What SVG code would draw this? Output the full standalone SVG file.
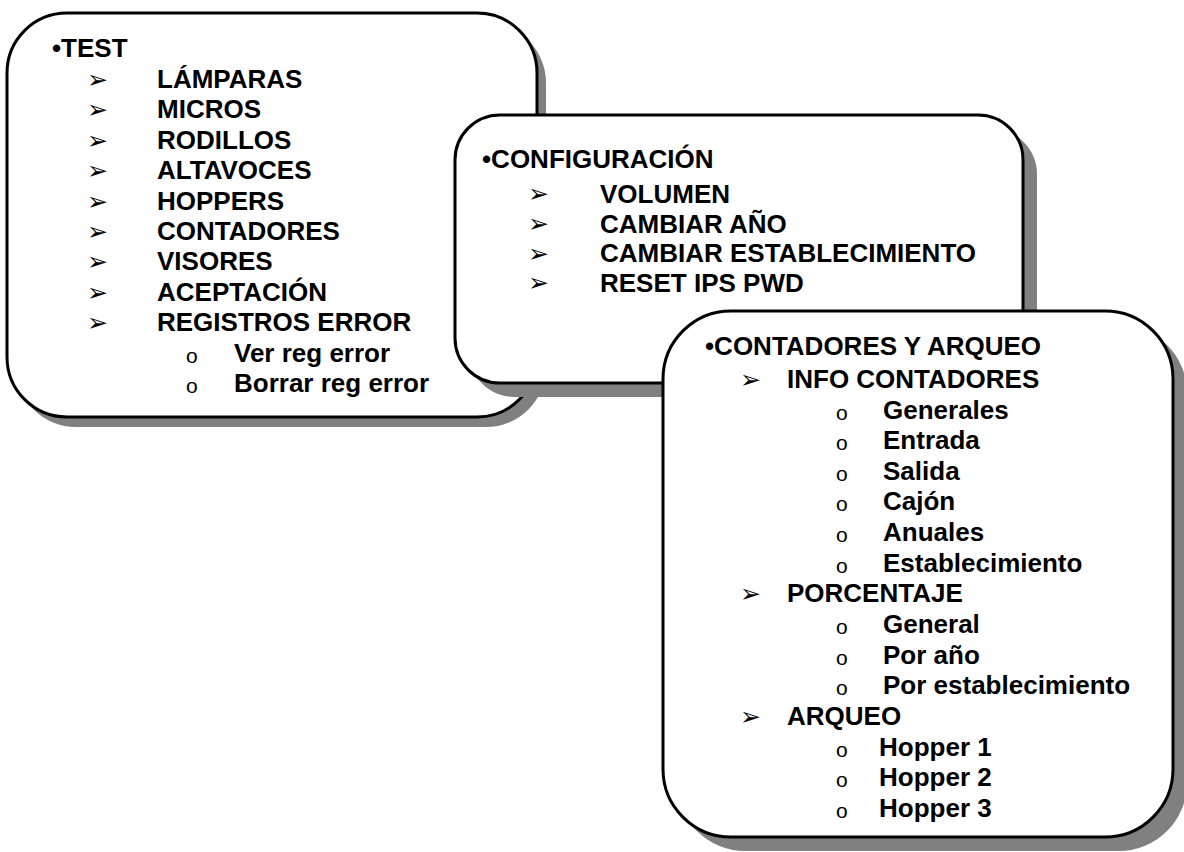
<svg xmlns="http://www.w3.org/2000/svg" width="1184" height="852" viewBox="0 0 1184 852">
<style>
.box{fill:#fff;stroke:#000;stroke-width:3}
.sh{fill:#808080}
.t{font-family:"Liberation Sans",Arial,sans-serif;font-weight:bold;font-size:26px;fill:#000}
.ar{font-family:"DejaVu Sans",sans-serif;font-size:25px;fill:#000}
.ci{font-family:"Liberation Sans",Arial,sans-serif;font-size:21px;fill:#000}
</style>
<rect width="1184" height="852" fill="#fff"/>
<g id="test">
<rect class="sh" x="16" y="23" width="530" height="404" rx="60"/>
<rect class="box" x="7" y="13" width="530" height="404" rx="60"/>
<text class="t" x="52" y="57">•TEST</text>
<g class="ar">
<text x="87" y="88">➢</text><text x="87" y="118">➢</text><text x="87" y="149">➢</text><text x="87" y="179">➢</text><text x="87" y="210">➢</text><text x="87" y="240">➢</text><text x="87" y="270">➢</text><text x="87" y="301">➢</text><text x="87" y="331">➢</text>
</g>
<g class="t">
<text x="157" y="88">LÁMPARAS</text>
<text x="157" y="118">MICROS</text>
<text x="157" y="149">RODILLOS</text>
<text x="157" y="179">ALTAVOCES</text>
<text x="157" y="210">HOPPERS</text>
<text x="157" y="240">CONTADORES</text>
<text x="157" y="270">VISORES</text>
<text x="157" y="301">ACEPTACIÓN</text>
<text x="157" y="331">REGISTROS ERROR</text>
<text x="234" y="362">Ver reg  error</text>
<text x="234" y="392">Borrar reg  error</text>
</g>
<g class="ci"><text x="186" y="363">o</text><text x="186" y="393">o</text></g>
</g>
<g id="configuracion">
<rect class="sh" x="469" y="129" width="568" height="268" rx="45"/>
<rect class="box" x="455" y="115" width="568" height="268" rx="45"/>
<text class="t" x="482" y="168">•CONFIGURACIÓN</text>
<g class="ar"><text x="528" y="202">➢</text><text x="528" y="232">➢</text><text x="528" y="262">➢</text><text x="528" y="291">➢</text></g>
<g class="t">
<text x="600" y="203">VOLUMEN</text>
<text x="600" y="233">CAMBIAR AÑO</text>
<text x="600" y="262">CAMBIAR ESTABLECIMIENTO</text>
<text x="600" y="292">RESET IPS PWD</text>
</g>
</g>
<g id="contadores">
<rect class="sh" x="677" y="325" width="510" height="526" rx="68"/>
<rect class="box" x="663" y="311" width="510" height="526" rx="68"/>
<text class="t" x="705" y="355">•CONTADORES Y ARQUEO</text>
<g class="ar"><text x="740" y="388">➢</text><text x="740" y="602">➢</text><text x="740" y="725">➢</text></g>
<g class="t">
<text x="787" y="388">INFO CONTADORES</text>
<text x="883" y="419">Generales</text>
<text x="883" y="449">Entrada</text>
<text x="883" y="480">Salida</text>
<text x="883" y="510">Cajón</text>
<text x="883" y="541">Anuales</text>
<text x="883" y="572">Establecimiento</text>
<text x="787" y="602">PORCENTAJE</text>
<text x="883" y="633">General</text>
<text x="883" y="664">Por año</text>
<text x="883" y="694">Por establecimiento</text>
<text x="787" y="725">ARQUEO</text>
<text x="879" y="756">Hopper 1</text>
<text x="879" y="786">Hopper 2</text>
<text x="879" y="817">Hopper 3</text>
</g>
<g class="ci">
<text x="836" y="420">o</text><text x="836" y="450">o</text><text x="836" y="481">o</text><text x="836" y="511">o</text><text x="836" y="542">o</text><text x="836" y="573">o</text>
<text x="836" y="634">o</text><text x="836" y="665">o</text><text x="836" y="695">o</text>
<text x="836" y="757">o</text><text x="836" y="787">o</text><text x="836" y="818">o</text>
</g>
</g>
<g id="connectors"></g>
</svg>
